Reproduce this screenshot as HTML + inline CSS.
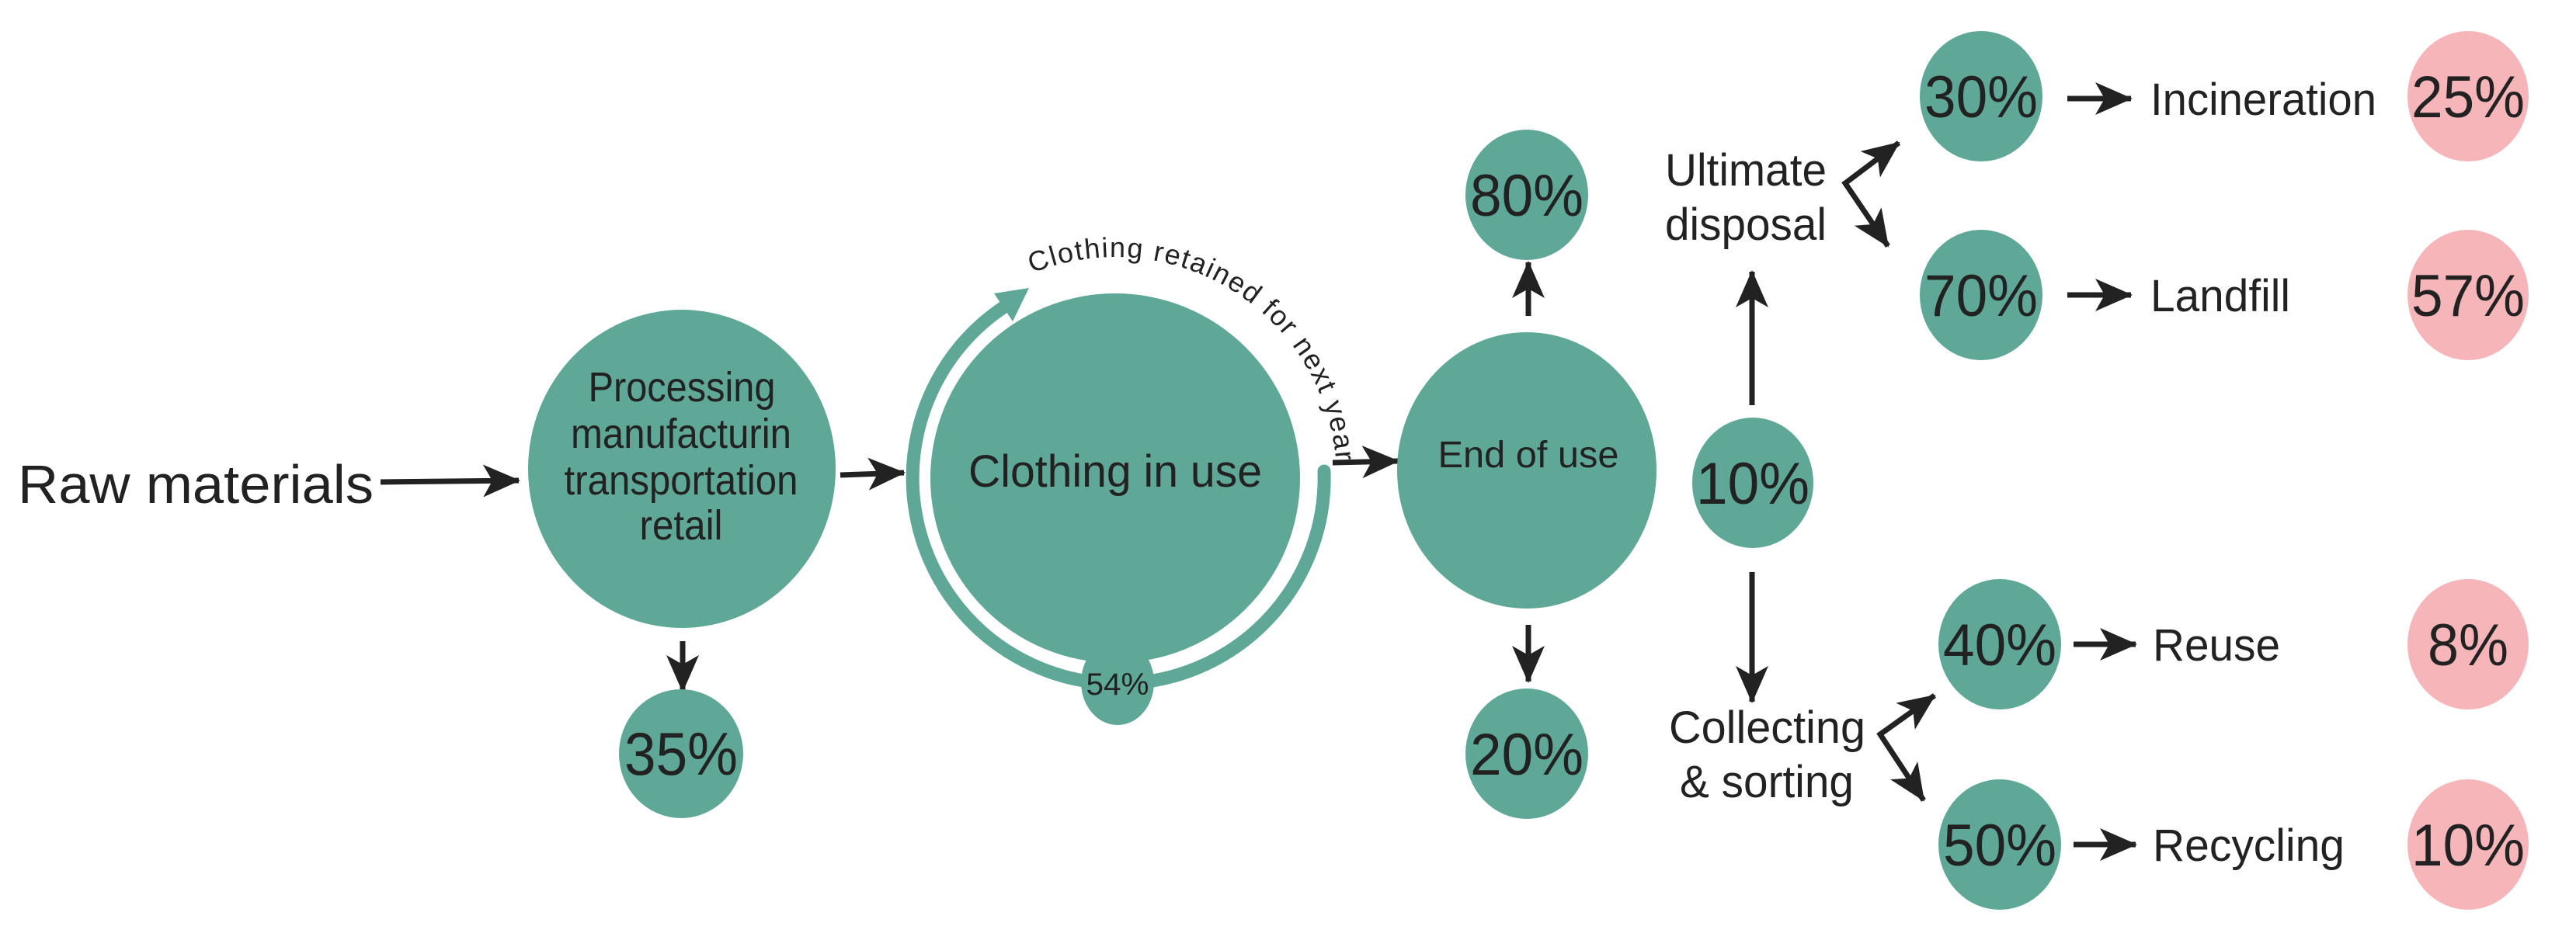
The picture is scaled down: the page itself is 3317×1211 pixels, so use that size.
<!DOCTYPE html>
<html><head><meta charset="utf-8"><style>
html,body{margin:0;padding:0;background:#fff}
svg{display:block}
text{font-family:"Liberation Sans",Arial,sans-serif;fill:#222}
</style></head><body>
<svg width="3317" height="1211" viewBox="0 0 3317 1211" xmlns="http://www.w3.org/2000/svg">
<defs>
<marker id="a" markerWidth="48" markerHeight="42" refX="46" refY="21" orient="auto-start-reverse" markerUnits="userSpaceOnUse">
<path d="M0,0 L48,21 L0,42 L12,21 Z" fill="#222"/>
</marker>
<path id="arcText" d="M1329,352 A285 285 0 0 1 1720,641" fill="none"/>
</defs>

<!-- Raw materials -->
<text x="23" y="648" font-size="70" textLength="458" lengthAdjust="spacingAndGlyphs">Raw materials</text>
<line x1="490" y1="621" x2="668" y2="619" stroke="#222" stroke-width="7" marker-end="url(#a)"/>

<!-- Processing -->
<ellipse cx="878" cy="604" rx="198" ry="205" fill="#5fa897"/>
<g font-size="54" text-anchor="middle">
<text x="878" y="517" textLength="241" lengthAdjust="spacingAndGlyphs">Processing</text>
<text x="877" y="577" textLength="284" lengthAdjust="spacingAndGlyphs">manufacturin</text>
<text x="877" y="637" textLength="301" lengthAdjust="spacingAndGlyphs">transportation</text>
<text x="877" y="695" textLength="107" lengthAdjust="spacingAndGlyphs">retail</text>
</g>
<line x1="879" y1="826" x2="879" y2="890" stroke="#222" stroke-width="7" marker-end="url(#a)"/>
<ellipse cx="877" cy="971" rx="80" ry="83" fill="#5fa897"/>
<text x="877" y="998" font-size="78" text-anchor="middle" textLength="146" lengthAdjust="spacingAndGlyphs">35%</text>

<line x1="1082" y1="612" x2="1164" y2="609" stroke="#222" stroke-width="7" marker-end="url(#a)"/>

<!-- Clothing in use -->
<path d="M1705,607 A265 265 0 1 1 1292,396" fill="none" stroke="#5fa897" stroke-width="17" stroke-linecap="round"/>
<polygon points="1325,371 1280,378 1304,414" fill="#5fa897"/>
<circle cx="1436" cy="616" r="238" fill="#5fa897"/>
<ellipse cx="1439" cy="879" rx="47" ry="55" fill="#5fa897"/>
<text x="1439" y="895" font-size="40" text-anchor="middle" textLength="81" lengthAdjust="spacingAndGlyphs">54%</text>
<text x="1436" y="627" font-size="58" text-anchor="middle" textLength="378" lengthAdjust="spacingAndGlyphs">Clothing in use</text>
<text font-size="36"><textPath href="#arcText" textLength="535" lengthAdjust="spacing">Clothing retained for next year</textPath></text>

<line x1="1716" y1="596" x2="1800" y2="594" stroke="#222" stroke-width="7" marker-end="url(#a)"/>

<!-- End of use -->
<ellipse cx="1966" cy="606" rx="167" ry="178" fill="#5fa897"/>
<text x="1968" y="602" font-size="48" text-anchor="middle" textLength="233" lengthAdjust="spacingAndGlyphs">End of use</text>
<line x1="1968" y1="407" x2="1968" y2="338" stroke="#222" stroke-width="7" marker-end="url(#a)"/>
<ellipse cx="1966" cy="251" rx="79" ry="84" fill="#5fa897"/>
<text x="1966" y="278" font-size="76" text-anchor="middle" textLength="146" lengthAdjust="spacingAndGlyphs">80%</text>
<line x1="1968" y1="805" x2="1968" y2="878" stroke="#222" stroke-width="7" marker-end="url(#a)"/>
<ellipse cx="1966" cy="971" rx="79" ry="84" fill="#5fa897"/>
<text x="1966" y="998" font-size="76" text-anchor="middle" textLength="146" lengthAdjust="spacingAndGlyphs">20%</text>

<!-- 10% -->
<ellipse cx="2257" cy="622" rx="78" ry="84" fill="#5fa897"/>
<text x="2257" y="649" font-size="76" text-anchor="middle" textLength="146" lengthAdjust="spacingAndGlyphs">10%</text>
<line x1="2256" y1="522" x2="2256" y2="350" stroke="#222" stroke-width="7" marker-end="url(#a)"/>
<line x1="2256" y1="737" x2="2256" y2="904" stroke="#222" stroke-width="7" marker-end="url(#a)"/>

<g font-size="58">
<text x="2144" y="239" textLength="208" lengthAdjust="spacingAndGlyphs">Ultimate</text>
<text x="2144" y="309" textLength="208" lengthAdjust="spacingAndGlyphs">disposal</text>
<text x="2149" y="957" textLength="253" lengthAdjust="spacingAndGlyphs">Collecting</text>
<text x="2163" y="1027" textLength="224" lengthAdjust="spacingAndGlyphs">&amp; sorting</text>
</g>
<polyline points="2445,184 2376,236 2431,317" fill="none" stroke="#222" stroke-width="7" marker-start="url(#a)" marker-end="url(#a)"/>
<polyline points="2491,896 2421,946 2477,1031" fill="none" stroke="#222" stroke-width="7" marker-start="url(#a)" marker-end="url(#a)"/>

<!-- right column -->
<g fill="#5fa897">
<ellipse cx="2551" cy="124" rx="79" ry="84"/>
<ellipse cx="2551" cy="380" rx="79" ry="84"/>
<ellipse cx="2575" cy="830" rx="79" ry="84"/>
<ellipse cx="2575" cy="1088" rx="79" ry="84"/>
</g>
<g fill="#f5b5b9">
<ellipse cx="3178" cy="124" rx="78" ry="84"/>
<ellipse cx="3178" cy="380" rx="78" ry="84"/>
<ellipse cx="3178" cy="830" rx="78" ry="84"/>
<ellipse cx="3178" cy="1088" rx="78" ry="84"/>
</g>
<g font-size="76" text-anchor="middle">
<text x="2551" y="151" textLength="146" lengthAdjust="spacingAndGlyphs">30%</text>
<text x="2551" y="407" textLength="146" lengthAdjust="spacingAndGlyphs">70%</text>
<text x="2575" y="857" textLength="146" lengthAdjust="spacingAndGlyphs">40%</text>
<text x="2575" y="1115" textLength="146" lengthAdjust="spacingAndGlyphs">50%</text>
<text x="3178" y="151" textLength="146" lengthAdjust="spacingAndGlyphs">25%</text>
<text x="3178" y="407" textLength="146" lengthAdjust="spacingAndGlyphs">57%</text>
<text x="3178" y="857" textLength="104" lengthAdjust="spacingAndGlyphs">8%</text>
<text x="3178" y="1115" textLength="146" lengthAdjust="spacingAndGlyphs">10%</text>
</g>
<g stroke="#222" stroke-width="7">
<line x1="2662" y1="127" x2="2744" y2="127" marker-end="url(#a)"/>
<line x1="2662" y1="380" x2="2744" y2="380" marker-end="url(#a)"/>
<line x1="2670" y1="830" x2="2750" y2="830" marker-end="url(#a)"/>
<line x1="2670" y1="1088" x2="2750" y2="1088" marker-end="url(#a)"/>
</g>
<g font-size="58">
<text x="2769" y="148" textLength="291" lengthAdjust="spacingAndGlyphs">Incineration</text>
<text x="2769" y="401" textLength="180" lengthAdjust="spacingAndGlyphs">Landfill</text>
<text x="2772" y="851" textLength="164" lengthAdjust="spacingAndGlyphs">Reuse</text>
<text x="2772" y="1109" textLength="247" lengthAdjust="spacingAndGlyphs">Recycling</text>
</g>
</svg>
</body></html>
